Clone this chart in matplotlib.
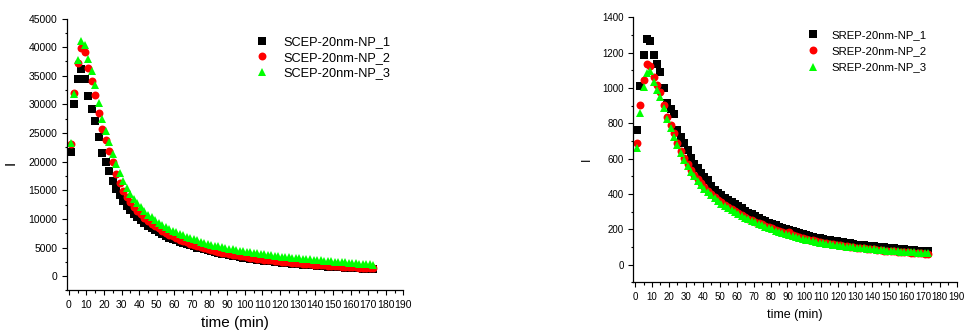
import matplotlib
matplotlib.use("Agg")
import matplotlib.pyplot as plt
from matplotlib.ticker import MultipleLocator

plt.rcParams['font.family'] = ['Liberation Sans', 'DejaVu Sans']

time_min = [1, 3, 5, 7, 9, 11, 13, 15, 17, 19,
            21, 23, 25, 27, 29, 31, 33, 35, 37, 39,
            41, 43, 45, 47, 49, 51, 53, 55, 57, 59,
            61, 63, 65, 67, 69, 71, 73, 75, 77, 79,
            81, 83, 85, 87, 89, 91, 93, 95, 97, 99,
            101, 103, 105, 107, 109, 111, 113, 115, 117, 119,
            121, 123, 125, 127, 129, 131, 133, 135, 137, 139,
            141, 143, 145, 147, 149, 151, 153, 155, 157, 159,
            161, 163, 165, 167, 169, 171, 173]

scep_1 = [21700, 30000, 34500, 36200, 34500, 31400, 29200, 27100, 24300, 21600,
          20000, 18300, 16700, 15300, 14100, 13100, 12300, 11600, 10900, 10300,
          9800, 9300, 8850, 8400, 8000, 7650, 7300, 7000, 6750, 6500,
          6250, 6000, 5800, 5600, 5400, 5200, 5000, 4850, 4700, 4500,
          4350, 4200, 4050, 3920, 3800, 3680, 3560, 3450, 3350, 3250,
          3150, 3060, 2970, 2880, 2800, 2720, 2650, 2580, 2510, 2440,
          2370, 2310, 2250, 2190, 2130, 2080, 2020, 1970, 1920, 1870,
          1820, 1780, 1730, 1690, 1650, 1610, 1570, 1530, 1490, 1450,
          1420, 1390, 1350, 1320, 1290, 1260, 1230]
scep_2 = [23100, 32000, 37200, 39900, 39100, 36300, 34000, 31700, 28500, 25700,
          23800, 21900, 20000, 17800, 16200, 14900, 13800, 12900, 12100, 11400,
          10800, 10200, 9700, 9200, 8750, 8350, 7950, 7600, 7250, 6950,
          6650, 6400, 6150, 5900, 5700, 5500, 5300, 5100, 4900, 4700,
          4550, 4400, 4250, 4100, 3980, 3860, 3750, 3640, 3540, 3440,
          3340, 3250, 3160, 3070, 2980, 2900, 2820, 2740, 2670, 2600,
          2530, 2460, 2400, 2340, 2280, 2220, 2160, 2110, 2060, 2010,
          1960, 1920, 1870, 1830, 1790, 1750, 1710, 1670, 1640, 1600,
          1570, 1540, 1510, 1480, 1460, 1440, 1420]
scep_3 = [23300, 31800, 37800, 41100, 40400, 38000, 35800, 33400, 30300, 27400,
          25300, 23400, 21400, 19600, 18000, 16600, 15400, 14400, 13500, 12700,
          12000, 11350, 10750, 10250, 9800, 9350, 8950, 8600, 8250, 7950,
          7650, 7400, 7150, 6900, 6650, 6450, 6250, 6050, 5850, 5650,
          5500, 5350, 5200, 5050, 4930, 4800, 4680, 4570, 4460, 4350,
          4250, 4150, 4060, 3970, 3880, 3800, 3720, 3640, 3560, 3490,
          3420, 3350, 3280, 3220, 3160, 3100, 3040, 2980, 2920, 2860,
          2810, 2750, 2700, 2650, 2600, 2550, 2500, 2450, 2400, 2350,
          2300, 2250, 2200, 2150, 2100, 2060, 2020]

srep_1 = [760, 1010, 1185, 1275, 1265, 1185, 1135, 1090, 1000, 915,
          880, 855, 765, 725, 688, 650, 605, 570, 545, 520,
          497, 477, 445, 425, 408, 393, 379, 366, 353, 341,
          330, 318, 306, 295, 284, 274, 264, 255, 246, 238,
          230, 222, 215, 208, 201, 195, 189, 183, 177, 172,
          167, 162, 157, 153, 149, 145, 141, 138, 135, 132,
          129, 126, 123, 120, 117, 114, 112, 110, 108, 106,
          104, 102, 100, 98, 96, 94, 92, 90, 88, 86,
          85, 83, 82, 80, 79, 77, 76]
srep_2 = [687, 902, 1045, 1136, 1125, 1064, 1017, 979, 904, 838,
          791, 744, 690, 645, 605, 570, 538, 509, 483, 460,
          438, 418, 400, 383, 367, 352, 338, 325, 313, 301,
          290, 280, 270, 261, 252, 244, 236, 228, 220, 212,
          205, 198, 191, 185, 178, 187, 166, 161, 156, 151,
          146, 141, 137, 133, 129, 125, 122, 118, 115, 112,
          109, 106, 104, 101, 99, 96, 94, 92, 90, 88,
          86, 84, 82, 80, 79, 77, 75, 74, 72, 71,
          69, 68, 67, 65, 64, 63, 62]
srep_3 = [659, 857, 1004, 1087, 1098, 1036, 989, 951, 885, 823,
          776, 725, 677, 634, 593, 558, 527, 499, 474, 451,
          430, 411, 393, 376, 360, 346, 332, 319, 307, 296,
          285, 275, 265, 256, 247, 239, 231, 223, 214, 206,
          199, 192, 185, 178, 172, 166, 160, 155, 150, 145,
          141, 137, 133, 129, 125, 122, 119, 116, 113, 110,
          107, 105, 102, 100, 98, 96, 94, 92, 90, 88,
          86, 85, 83, 82, 80, 79, 77, 76, 74, 73,
          72, 70, 69, 68, 66, 65, 64]

left_labels = ['SCEP-20nm-NP_1', 'SCEP-20nm-NP_2', 'SCEP-20nm-NP_3']
right_labels = ['SREP-20nm-NP_1', 'SREP-20nm-NP_2', 'SREP-20nm-NP_3']

styles = [dict(marker='s', color='#000000', ms=5.3),
          dict(marker='o', color='#ff0000', ms=5.7),
          dict(marker='^', color='#00ff00', ms=6.3)]

fig = plt.figure(figsize=(9.64, 3.3), dpi=100)
ax1 = fig.add_axes([0.0695, 0.1197, 0.3489, 0.8242])
ax2 = fig.add_axes([0.657, 0.1445, 0.3355, 0.803])


def setup(ax, series, labels, ylim, ymaj, ymin, tick_fs, label_fs, leg_fs,
          ylab_xy, xlab_y, leg_anchor, leg_pad, leg_space):
    for vals, lab, st in zip(series, labels, styles):
        ax.plot(time_min, vals, linestyle='none', marker=st['marker'],
                color=st['color'], markersize=st['ms'], markeredgewidth=0,
                label=lab, clip_on=False)
    ax.xaxis.set_minor_locator(MultipleLocator(5))
    ax.yaxis.set_minor_locator(MultipleLocator(ymin))
    ax.set_xticks(list(range(0, 191, 10)))
    ax.set_yticks(list(range(0, int(ylim[1]) + 1, ymaj)))
    ax.set_xlim(-1, 190)
    ax.set_ylim(*ylim)
    for s in ['top', 'right']:
        ax.spines[s].set_visible(False)
    for s in ['left', 'bottom']:
        ax.spines[s].set_linewidth(0.9)
    ax.tick_params(which='major', direction='out', length=3.6, width=0.8,
                   labelsize=tick_fs, pad=3.2)
    ax.tick_params(which='minor', direction='out', length=1.8, width=0.8)
    ax.set_xlabel('time (min)', fontsize=label_fs)
    ax.set_ylabel('I', fontsize=label_fs)
    ax.yaxis.set_label_coords(*ylab_xy)
    ax.xaxis.set_label_coords(0.5, xlab_y)
    ax.legend(loc='upper left', bbox_to_anchor=leg_anchor, frameon=False,
              fontsize=leg_fs, handlelength=1.0, handletextpad=leg_pad,
              borderpad=0, borderaxespad=0, labelspacing=leg_space,
              numpoints=1)


setup(ax1, [scep_1, scep_2, scep_3], left_labels, (-2500, 45000), 5000, 2500,
      7.5, 11, 9.2, (-0.146, 0.47), -0.094, (0.561, 0.934), 1.18, 0.27)
setup(ax2, [srep_1, srep_2, srep_3], right_labels, (-100, 1400), 200, 100,
      7.0, 9, 8.2, (-0.125, 0.465), -0.10, (0.538, 0.952), 1.08, 0.55)

fig.savefig('out.png', dpi=100)
